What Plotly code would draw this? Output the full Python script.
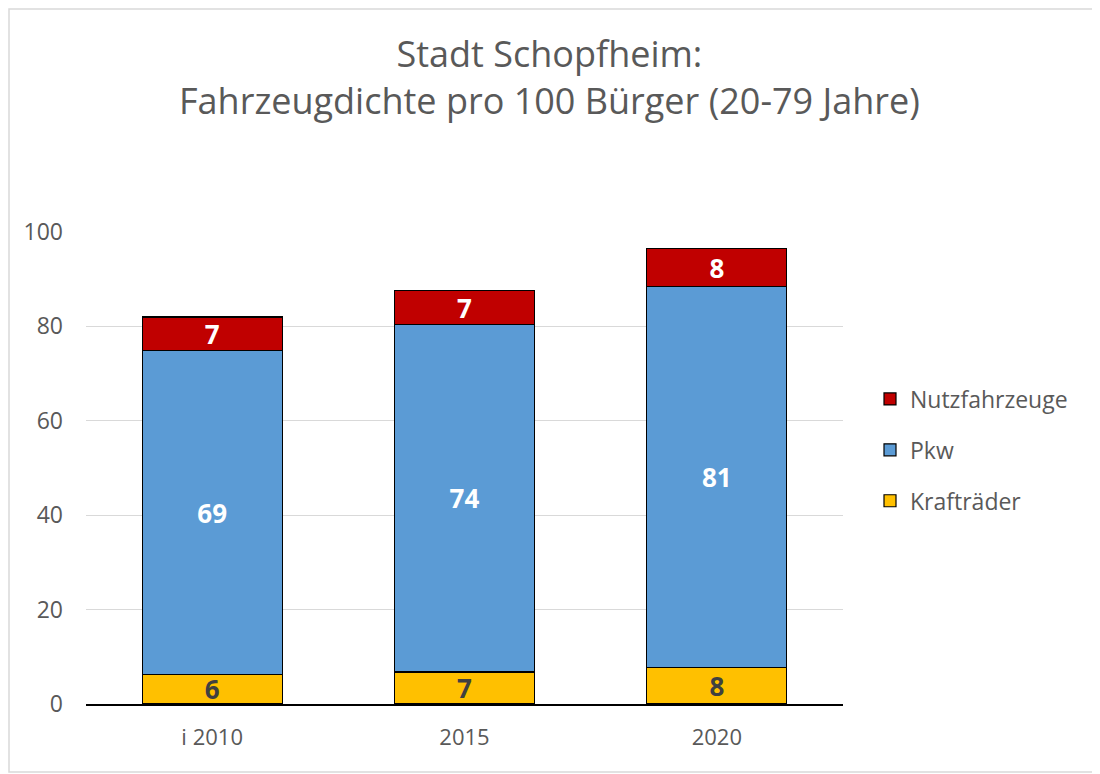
import plotly.graph_objects as go

years = ["i 2010", "2015", "2020"]
kraftraeder = [6.2, 6.8, 7.8]
pkw = [68.65, 73.6, 80.6]
nutzfahrzeuge = [7.15, 7.2, 8.1]

series = [
    ("Krafträder", kraftraeder, "#FFC000", "#404040", 3),
    ("Pkw", pkw, "#5B9BD5", "white", 2),
    ("Nutzfahrzeuge", nutzfahrzeuge, "#C00000", "white", 1),
]

fig = go.Figure()
for name, vals, col, tcol, rank in series:
    fig.add_trace(go.Bar(
        x=years, y=vals, name=name, legendgroup=name, legendrank=rank,
        marker=dict(color=col, line=dict(color="black", width=1.2)),
        texttemplate="<b>%{y:.0f}</b>", textposition="inside", textangle=0,
        insidetextanchor="middle", constraintext="none",
        textfont=dict(family="Open Sans", size=26, color=tcol),
    ))

# page body has an 8px margin; the figure is sized/offset to compensate
W, H = 1092, 766
l, r, t, b = 78, 257, 224, 70
pw, ph = W - l - r, H - t - b

fig.update_layout(
    width=W, height=H,
    barmode="stack", bargap=0.445,
    plot_bgcolor="white", paper_bgcolor="white",
    margin=dict(l=l, r=r, t=t, b=b, autoexpand=False),
    font=dict(family="Open Sans", color="#595959"),
    xaxis=dict(showline=True, linecolor="black", linewidth=1.5, automargin=False,
               tickfont=dict(size=22, color="#595959"), ticks="",
               ticklabelstandoff=13),
    yaxis=dict(range=[0, 100], dtick=20, showgrid=True, gridcolor="#D9D9D9",
               gridwidth=1.3, zeroline=False, ticks="", automargin=False,
               tickfont=dict(size=23, color="#595959"), ticklabelstandoff=22),
    legend=dict(traceorder="grouped", tracegroupgap=18,
                x=(862 - l) / pw, xanchor="left",
                y=(696 - 442) / ph, yanchor="middle",
                font=dict(size=23, color="#595959"),
                itemwidth=30),
    annotations=[dict(
        text="Stadt Schopfheim:<br>Fahrzeugdichte pro 100 Bürger (20-79 Jahre)",
        xref="paper", yref="paper", x=(541 - l) / pw, y=(696 - 68.5) / ph,
        xanchor="center", yanchor="middle", showarrow=False,
        font=dict(size=36, color="#595959"),
    )],
    shapes=[dict(type="rect", xref="paper", yref="paper",
                 x0=-(l - 1) / pw, x1=1 + (r - 2) / pw,
                 y0=-(b - 2) / ph, y1=1 + (t - 1) / ph,
                 line=dict(color="#D9D9D9", width=1.5))],
)

fig.write_html("out.html")
